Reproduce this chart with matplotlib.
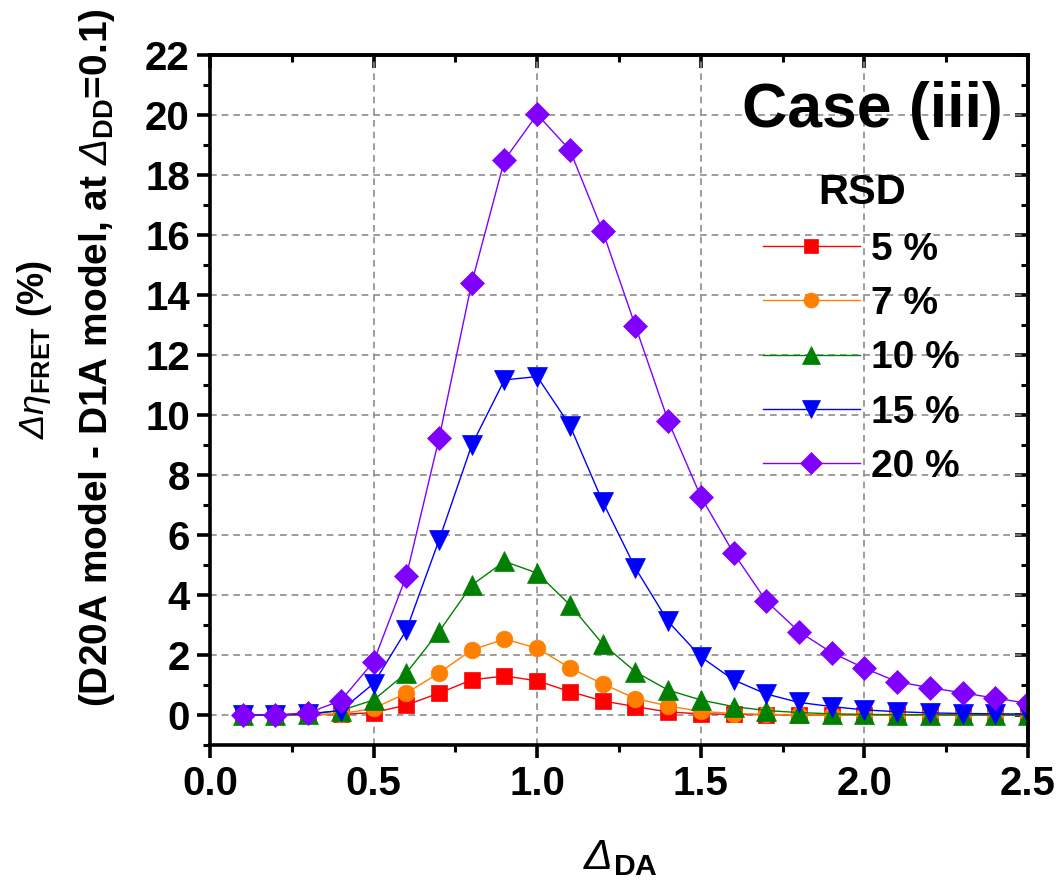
import numpy as np
import matplotlib.pyplot as plt
from matplotlib.ticker import MultipleLocator

plt.rcParams['font.family'] = 'Liberation Sans'
plt.rcParams['font.weight'] = 'bold'
plt.rcParams['mathtext.fontset'] = 'custom'
plt.rcParams['mathtext.rm'] = 'Liberation Sans:weight=bold'
plt.rcParams['mathtext.bf'] = 'Liberation Sans:weight=bold'
plt.rcParams['mathtext.it'] = 'Liberation Sans:style=italic:weight=normal'
plt.rcParams['mathtext.sf'] = 'Liberation Sans:style=italic:weight=normal'

# data
delta_da = [0.1, 0.2, 0.3, 0.4, 0.5, 0.6, 0.7, 0.8, 0.9, 1.0, 1.1, 1.2, 1.3,
            1.4, 1.5, 1.6, 1.7, 1.8, 1.9, 2.0, 2.1, 2.2, 2.3, 2.4, 2.5]
rsd_5 = [0, 0, 0.01, 0.02, 0.08, 0.33, 0.73, 1.17, 1.3, 1.14, 0.78, 0.47, 0.28,
         0.1, 0.04, 0.02, 0.01, 0, 0, 0, 0, 0, 0, 0, 0]
rsd_7 = [0, 0, 0.01, 0.04, 0.22, 0.73, 1.4, 2.17, 2.53, 2.23, 1.57, 1.04, 0.55,
         0.3, 0.12, 0.05, 0.02, 0.01, 0, 0, 0, 0, 0, 0, 0]
rsd_10 = [0, 0, 0.02, 0.15, 0.5, 1.4, 2.78, 4.33, 5.12, 4.73, 3.67, 2.37, 1.44,
          0.83, 0.5, 0.28, 0.15, 0.08, 0.04, 0.02, 0.01, 0.01, 0, 0, 0]
rsd_15 = [0, 0, 0.04, 0.15, 1.05, 2.83, 5.83, 9.0, 11.17, 11.28, 9.65, 7.11, 4.9,
          3.12, 1.94, 1.17, 0.7, 0.42, 0.28, 0.17, 0.11, 0.07, 0.05, 0.04, 0.03]
rsd_20 = [0, 0, 0.07, 0.48, 1.78, 4.63, 9.22, 14.41, 18.5, 20.02, 18.83, 16.13, 12.97,
          9.81, 7.28, 5.4, 3.8, 2.78, 2.08, 1.56, 1.11, 0.91, 0.74, 0.56, 0.39]

labels = ["5 %", "7 %", "10 %", "15 %", "20 %"]
colors = ["#ff0000", "#ff8000", "#008000", "#0000ff", "#8000ff"]
markers = ["s", "o", "^", "v", "D"]
msizes = [11, 12, 14, 14, 12]

W, H = 1060, 891
fig = plt.figure(figsize=(W / 100, H / 100), dpi=100)
ax = fig.add_axes([210 / W, 1 - 745 / H, (1028 - 210) / W, (745 - 55) / H])

for ys, lab, c, m, ms in zip([rsd_5, rsd_7, rsd_10, rsd_15, rsd_20], labels, colors, markers, msizes):
    ax.plot(delta_da, ys, color=c, lw=1, marker=m, ms=ms, mec=c, mew=0.5, label=lab)

ax.set_xlim(0, 2.5)
ax.set_ylim(-1, 22)
ax.xaxis.set_major_locator(MultipleLocator(0.5))
ax.xaxis.set_minor_locator(MultipleLocator(0.25))
ax.yaxis.set_major_locator(MultipleLocator(2))
ax.yaxis.set_minor_locator(MultipleLocator(1))
ax.xaxis.set_major_formatter(lambda v, p: "%.1f" % v)

ax.set_axisbelow(True)
ax.grid(True, which='major', color='#8c8c8c', lw=1.2, ls=(0, (4, 3)))

for s in ax.spines.values():
    s.set_linewidth(2.6)
ax.tick_params(which='major', direction='out', length=9.5, width=2.6, labelsize=29, pad=5)
ax.tick_params(which='minor', direction='out', length=5, width=2.2)

# mirrored ticks pointing inward on top and right
top = ax.secondary_xaxis('top')
top.xaxis.set_major_locator(MultipleLocator(0.5))
top.xaxis.set_minor_locator(MultipleLocator(0.25))
top.tick_params(which='major', direction='in', length=9.5, width=2.6, labeltop=False)
top.tick_params(which='minor', direction='in', length=5, width=2.2)
right = ax.secondary_yaxis('right')
right.yaxis.set_major_locator(MultipleLocator(2))
right.yaxis.set_minor_locator(MultipleLocator(1))
right.tick_params(which='major', direction='in', length=9.5, width=2.6, labelright=False)
right.tick_params(which='minor', direction='in', length=5, width=2.2)
for sa in (top, right):
    for s in sa.spines.values():
        s.set_linewidth(2.6)

fig.text(620 / W, 1 - 858 / H, r'$\mathsf{\Delta}_{\mathbf{DA}}$', fontsize=31,
         ha='center', va='center')
fig.text(35 / W, 1 - 350 / H, r'$\mathsf{\Delta\eta}_{\mathbf{FRET}}$ (%)', fontsize=26,
         rotation=90, ha='center', va='center')
fig.text(97 / W, 1 - 358 / H, r'(D20A model - D1A model, at $\mathsf{\Delta}_{\mathbf{DD}}$=0.1)',
         fontsize=28, rotation=90, ha='center', va='center')

fig.text(872 / W, 1 - 110 / H, "Case (iii)", fontsize=45, ha='center', va='center')

leg = ax.legend(title="RSD", frameon=False, fontsize=28, title_fontsize=30,
                loc='upper left', bbox_to_anchor=(744 / W, 1 - 154 / H),
                bbox_transform=fig.transFigure, borderpad=0, handlelength=2.47,
                handletextpad=0.3, labelspacing=0.47, markerscale=0.9)
leg.get_title().set_fontweight('bold')

fig.savefig("out.png", dpi=100)
